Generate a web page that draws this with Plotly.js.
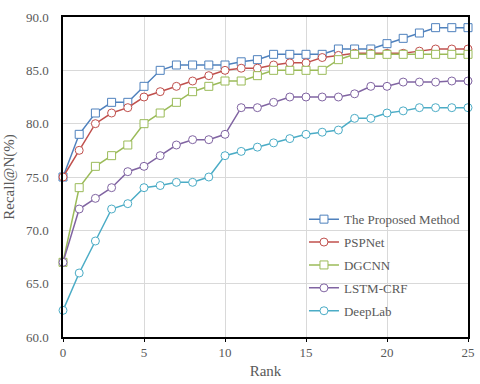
<!DOCTYPE html>
<html>
<head>
<meta charset="utf-8">
<script src="https://cdn.plot.ly/plotly-3.0.1.min.js"></script>
<style>
  body { margin: 0; background: #fff; }
  #chart { width: 480px; height: 384px; }
</style>
</head>
<body>
<div id="chart"></div>
<script>
// rank 0..25
var rank = [];
for (let i = 0; i <= 25; i++) rank.push(i);

var names = ['The Proposed Method', 'PSPNet', 'DGCNN', 'LSTM-CRF', 'DeepLab'];

var proposed = [75, 79, 81, 82, 82, 83.5, 85, 85.5, 85.5, 85.5, 85.5, 85.8, 86, 86.5, 86.5, 86.5, 86.5, 87, 87, 87, 87.5, 88, 88.5, 89, 89, 89];
var pspnet = [75, 77.5, 80, 81, 81.5, 82.5, 83, 83.5, 84, 84.5, 85, 85.2, 85.2, 85.5, 85.7, 85.7, 86.2, 86.4, 86.6, 86.6, 86.6, 86.6, 86.8, 87, 87, 87];
var dgcnn = [67, 74, 76, 77, 78, 80, 81, 82, 83, 83.5, 84, 84, 84.5, 85, 85, 85, 85, 86, 86.5, 86.5, 86.5, 86.5, 86.5, 86.5, 86.5, 86.5];
var lstmcrf = [67, 72, 73, 74, 75.5, 76, 77, 78, 78.5, 78.5, 79, 81.5, 81.5, 82, 82.5, 82.5, 82.5, 82.5, 82.8, 83.5, 83.5, 83.9, 83.9, 83.9, 84, 84];
var deeplab = [62.5, 66, 69, 72, 72.5, 74, 74.2, 74.5, 74.5, 75, 77, 77.4, 77.8, 78.2, 78.6, 79, 79.2, 79.4, 80.5, 80.5, 81, 81.2, 81.5, 81.5, 81.5, 81.5];

var series = [proposed, pspnet, dgcnn, lstmcrf, deeplab];
var colors = ['#4f81bd', '#c0504d', '#9bbb59', '#8064a2', '#4bacc6'];
var symbols = ['square', 'circle', 'square', 'circle', 'circle'];

var data = [];
for (let i = 0; i < series.length; i++) {
    data.push({
        x: rank,
        y: series[i],
        name: names[i],
        legendgroup: 'g' + i,
        type: 'scatter',
        mode: 'lines+markers',
        cliponaxis: false,
        line: {color: colors[i], width: 1.5},
        marker: {
            symbol: symbols[i],
            size: 8,
            color: 'white',
            line: {color: colors[i], width: 1}
        }
    });
}

var serif = 'Liberation Serif';
var grey = '#595959';

var layout = {
    width: 480,
    height: 384,
    margin: {l: 63, r: 12, t: 17, b: 47},
    paper_bgcolor: 'white',
    plot_bgcolor: 'white',
    showlegend: true,
    legend: {
        x: 0.595,
        y: 0.415,
        xanchor: 'left',
        yanchor: 'top',
        bgcolor: 'rgba(0,0,0,0)',
        tracegroupgap: 3,
        font: {family: serif, size: 13, color: grey}
    },
    xaxis: {
        range: [0, 25],
        dtick: 5,
        tick0: 0,
        showgrid: true,
        gridcolor: '#d9d9d9',
        zeroline: false,
        showline: true,
        linecolor: 'black',
        linewidth: 1.5,
        mirror: true,
        ticks: 'outside',
        ticklen: 3,
        tickcolor: 'black',
        tickfont: {family: serif, size: 13, color: grey},
        title: {text: 'Rank', font: {family: serif, size: 15, color: grey}, standoff: 6}
    },
    yaxis: {
        range: [60, 90],
        dtick: 5,
        tickformat: '.1f',
        showgrid: true,
        gridcolor: '#d9d9d9',
        zeroline: false,
        showline: true,
        linecolor: 'black',
        linewidth: 1.5,
        mirror: true,
        ticks: '',
        ticklabelstandoff: 10,
        tickfont: {family: serif, size: 13, color: grey},
        title: {text: 'Recall@N(%)', font: {family: serif, size: 15, color: grey}, standoff: 8}
    }
};

Plotly.newPlot('chart', data, layout, {displayModeBar: false});
</script>
</body>
</html>
